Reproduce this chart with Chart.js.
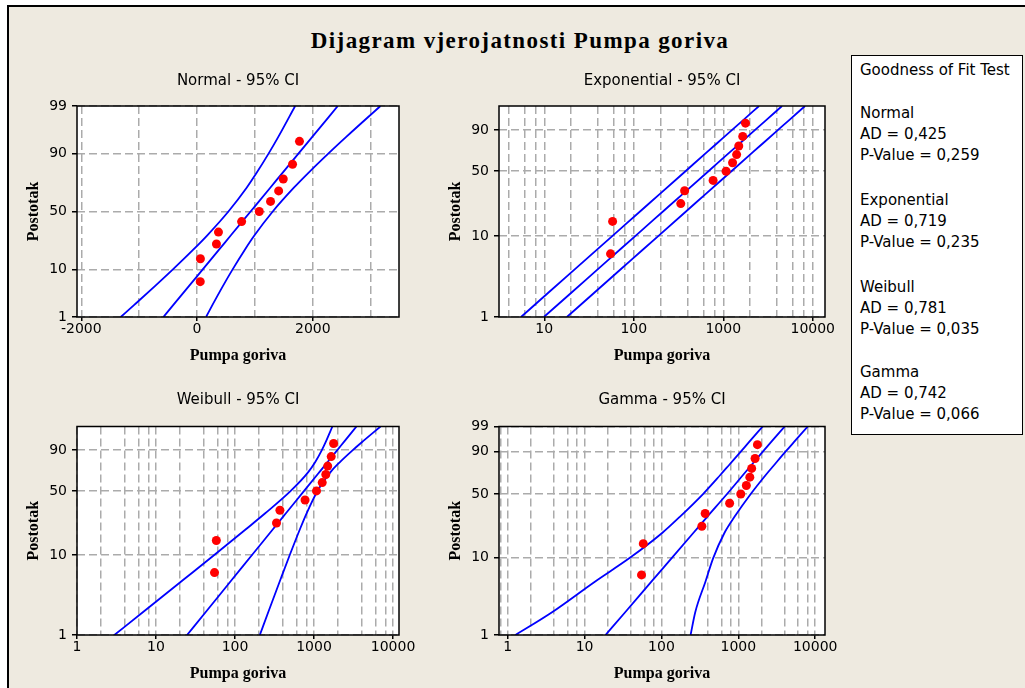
<!DOCTYPE html>
<html>
<head>
<meta charset="utf-8">
<title>Dijagram vjerojatnosti Pumpa goriva</title>
<script src="https://cdn.jsdelivr.net/npm/chart.js@4/dist/chart.umd.min.js"></script>
<style>
  html, body { margin: 0; padding: 0; background: #fff; }
  body { width: 1025px; height: 688px; position: relative; overflow: hidden; }
  #frame { position: absolute; left: 7px; top: 5px; width: 1030px; height: 700px; background: #eeeae0;
           border-top: 2px solid #000; border-left: 2px solid #000; }
  #mainTitle { position: absolute; left: 0; width: 1040px; top: 28px; line-height: 26px; text-align: center;
               font: bold 23px "Liberation Serif", serif; letter-spacing: 1.4px; color: #000; }
  canvas { position: absolute; }
  #gof { position: absolute; left: 851px; top: 55px; width: 170px; height: 378px; border: 1px solid #000;
         background: #fff; font: 15px "DejaVu Sans", sans-serif; color: #000; }
  #gof div { position: absolute; left: 8px; line-height: 18px; white-space: nowrap; }
</style>
</head>
<body>
<div id="frame"></div>
<div id="mainTitle">Dijagram vjerojatnosti Pumpa goriva</div>
<canvas id="cNormal" width="410" height="318" style="left:10px;top:62px"></canvas>
<canvas id="cExp" width="410" height="318" style="left:432px;top:62px"></canvas>
<canvas id="cWeibull" width="410" height="306" style="left:10px;top:382px"></canvas>
<canvas id="cGamma" width="410" height="306" style="left:432px;top:382px"></canvas>
<div id="gof"></div>
<script>
// measured values (Pumpa goriva) and their median-rank plotting positions (Postotak)
const pumpaGoriva = [55, 58, 335, 370, 770, 1075, 1270, 1410, 1490, 1650, 1770];
const postotak = [6.1, 14.9, 23.7, 32.5, 41.2, 50, 58.8, 67.5, 76.3, 85.1, 93.9];

const ciLevels = [1, 2, 5, 10, 20, 30, 50, 70, 80, 90, 95, 99];

const normalFit = [-582, -406, -141, 95, 380, 585, 925, 1265, 1470, 1755, 1991, 2432];
const normalLower = [-1319, -1081, -728, -422, -66, 177, 542, 857, 1024, 1238, 1404, 1695];
const normalUpper = [155, 269, 446, 612, 826, 993, 1308, 1673, 1916, 2272, 2578, 3169];

const expFit = [9.9, 19.9, 50.5, 103.8, 219.8, 351.3, 682.7, 1186, 1585, 2268, 2951, 4536];
const expLower = [5.5, 11.0, 28.0, 57.5, 121.8, 194.6, 378.2, 657, 878, 1256, 1635, 2513];
const expUpper = [17.9, 35.9, 91.2, 187.5, 397, 634, 1233, 2142, 2863, 4096, 5330, 8192];

const weibullFit = [24.7, 43.4, 91.8, 164, 300, 438, 749, 1169, 1477, 1971, 2437, 3446];
const weibullLower = [2.97, 7.06, 22.4, 54.6, 136, 239, 507, 845, 1032, 1256, 1422, 1709];
const weibullUpper = [206, 266, 376, 493, 661, 803, 1107, 1616, 2113, 3093, 4177, 6945];

const gammaFit = [18.7, 33.7, 73.9, 136.6, 260.9, 392.6, 711.9, 1157, 1501, 2081, 2659, 4015];
const gammaLower = [1.26, 3.77, 13.6, 38.8, 102.9, 173, 347, 586, 768, 1076, 1374, 2075];
const gammaUpper = [239, 275, 373, 472, 661, 891, 1448, 2284, 2963, 4108, 5275, 8005];

// axis ticks
const normalXLabels = [-2000, 0, 2000];
const normalXGrid = [-2000, -1000, 0, 1000, 2000, 3000];
const logXLabels = [1, 10, 100, 1000, 10000];
const logGridSteps = [1, 2, 4, 6, 8];
const probLabels = [1, 10, 50, 90, 99];
const probLabelsShort = [1, 10, 50, 90];

// goodness of fit box
const gofNames = ['Normal', 'Exponential', 'Weibull', 'Gamma'];
const gofAD = ['0,425', '0,719', '0,781', '0,742'];
const gofP = ['0,259', '0,235', '0,035', '0,066'];

// ---- probability axis helpers ----
function normCdf(z) {
  const t = 1 / (1 + 0.3275911 * Math.abs(z) / Math.SQRT2);
  const y = 1 - (((((1.061405429 * t - 1.453152027) * t) + 1.421413741) * t - 0.284496736) * t + 0.254829592) * t * Math.exp(-z * z / 2);
  return z >= 0 ? (1 + y) / 2 : (1 - y) / 2;
}
function normInv(p) {
  let lo = -10, hi = 10;
  for (let i = 0; i < 70; i++) {
    const mid = (lo + hi) / 2;
    if (normCdf(mid) < p) lo = mid; else hi = mid;
  }
  return (lo + hi) / 2;
}
function lnGamma(z) {
  const c = [0.99999999999980993, 676.5203681218851, -1259.1392167224028, 771.32342877765313,
    -176.61502916214059, 12.507343278686905, -0.13857109526572012, 9.9843695780195716e-6, 1.5056327351493116e-7];
  z -= 1;
  let x = c[0];
  for (let i = 1; i < 9; i++) x += c[i] / (z + i);
  const t = z + 7.5;
  return 0.5 * Math.log(2 * Math.PI) + (z + 0.5) * Math.log(t) - t + Math.log(x);
}
function gammaP(a, x) {
  if (x <= 0) return 0;
  const gln = lnGamma(a);
  if (x < a + 1) {
    let ap = a, sum = 1 / a, del = sum;
    for (let n = 0; n < 300; n++) {
      ap++; del *= x / ap; sum += del;
      if (Math.abs(del) < Math.abs(sum) * 1e-13) break;
    }
    return sum * Math.exp(-x + a * Math.log(x) - gln);
  }
  let b = x + 1 - a, c = 1e300, d = 1 / b, h = d;
  for (let i = 1; i < 300; i++) {
    const an = -i * (i - a);
    b += 2;
    d = an * d + b; if (Math.abs(d) < 1e-300) d = 1e-300;
    c = b + an / c; if (Math.abs(c) < 1e-300) c = 1e-300;
    d = 1 / d;
    const del = d * c;
    h *= del;
    if (Math.abs(del - 1) < 1e-13) break;
  }
  return 1 - Math.exp(-x + a * Math.log(x) - gln) * h;
}
function gammaInv(p, a) {
  let lo = -40, hi = 6;
  for (let i = 0; i < 80; i++) {
    const mid = (lo + hi) / 2;
    if (gammaP(a, Math.exp(mid)) < p) lo = mid; else hi = mid;
  }
  return Math.exp((lo + hi) / 2);
}

class ProbabilityScale extends Chart.Scale {
  determineDataLimits() {
    this.min = this.options.min;
    this.max = this.options.max;
  }
  buildTicks() {
    return this.options.tickValues.map(v => ({ value: v }));
  }
  getLabelForValue(v) {
    return String(v);
  }
  transform(v) {
    const p = v / 100;
    if (this.options.dist === 'normal') return normInv(p);
    if (this.options.dist === 'gamma') return Math.log(gammaInv(p, this.options.shape));
    return Math.log(-Math.log(1 - p));
  }
  getPixelForValue(v) {
    if (v === null || v === undefined || isNaN(v)) return NaN;
    const t0 = this.transform(this.min), t1 = this.transform(this.max);
    return this.getPixelForDecimal((this.transform(v) - t0) / (t1 - t0));
  }
  getValueForPixel(px) {
    const target = this.getDecimalForPixel(px);
    const t0 = this.transform(this.min), t1 = this.transform(this.max);
    let lo = this.min, hi = this.max;
    for (let i = 0; i < 50; i++) {
      const mid = (lo + hi) / 2;
      if ((this.transform(mid) - t0) / (t1 - t0) < target) lo = mid; else hi = mid;
    }
    return (lo + hi) / 2;
  }
}
ProbabilityScale.id = 'probability';
ProbabilityScale.defaults = {};
Chart.register(ProbabilityScale);

// white plot area + black frame round it
const plotFrame = {
  id: 'plotFrame',
  beforeDraw(chart) {
    const { ctx, chartArea: a } = chart;
    ctx.save();
    ctx.fillStyle = '#fff';
    ctx.fillRect(a.left, a.top, a.right - a.left, a.bottom - a.top);
    ctx.restore();
  },
  afterDatasetsDraw(chart) {
    const { ctx, chartArea: a } = chart;
    ctx.save();
    ctx.strokeStyle = '#000';
    ctx.lineWidth = 1.5;
    ctx.strokeRect(a.left, a.top, a.right - a.left, a.bottom - a.top);
    ctx.restore();
  }
};

function logGrid(min, max) {
  const vals = [];
  for (let e = -1; e <= 4; e++) {
    logGridSteps.forEach(s => {
      const v = Number((s * Math.pow(10, e)).toPrecision(6));
      if (v >= min && v <= max) vals.push(v);
    });
  }
  return vals;
}

const GRID = '#ababab';
const tickFont = { family: 'DejaVu Sans', size: 14 };
const axisTitleFont = { family: 'Liberation Serif', size: 16, weight: 'bold' };

function makePlot(p) {
  const band = arr => ciLevels.map((lvl, i) => ({ x: arr[i], y: lvl }));
  const points = pumpaGoriva.map((v, i) => ({ x: v, y: postotak[i] }));
  const lineStyle = { showLine: true, pointRadius: 0, borderColor: '#0000ff', borderWidth: 1.8,
                      cubicInterpolationMode: 'monotone', fill: false };
  const xGrid = p.xType === 'linear' ? normalXGrid : logGrid(p.xMin, p.xMax);

  new Chart(document.getElementById(p.id), {
    type: 'scatter',
    data: {
      datasets: [
        { data: points, backgroundColor: '#ff0000', borderWidth: 0, pointRadius: 4.5 },
        Object.assign({ data: band(p.fit) }, lineStyle),
        Object.assign({ data: band(p.lower) }, lineStyle),
        Object.assign({ data: band(p.upper) }, lineStyle)
      ]
    },
    options: {
      responsive: false,
      animation: false,
      events: [],
      devicePixelRatio: 1,
      layout: { padding: p.padding },
      plugins: {
        legend: { display: false },
        tooltip: { enabled: false },
        title: {
          display: true, text: p.title, fullSize: false, color: '#000',
          font: { family: 'DejaVu Sans', size: 15, weight: 'normal', lineHeight: 1.2 },
          padding: { top: 0, bottom: p.titleGap }
        }
      },
      scales: {
        x: {
          type: p.xType, min: p.xMin, max: p.xMax,
          afterBuildTicks: s => { s.ticks = xGrid.map(v => ({ value: v })); },
          afterFit: s => { s.height = 50; },
          ticks: {
            autoSkip: false, maxRotation: 0, padding: 0, color: '#000', font: tickFont,
            callback: v => p.xLabels.includes(v) ? String(v) : ''
          },
          grid: {
            color: GRID, lineWidth: 1.5, tickLength: 4, tickWidth: 1.5,
            tickColor: c => (c.tick && p.xLabels.includes(c.tick.value)) ? '#000' : 'rgba(0,0,0,0)'
          },
          border: { display: false, dash: [8, 4] },
          title: { display: true, text: 'Pumpa goriva', color: '#000', font: axisTitleFont, padding: { top: 0, bottom: 1.5 } }
        },
        y: {
          type: 'probability', dist: p.dist, shape: p.shape, min: 1, max: 99, tickValues: p.yLabels,
          afterFit: s => { s.width = 67; },
          ticks: { autoSkip: false, padding: 5, color: '#000', font: tickFont },
          grid: {
            color: GRID, lineWidth: 1.5, tickLength: 5, tickWidth: 1.5,
            tickColor: c => (c.tick && p.yLabels.includes(c.tick.value)) ? '#000' : 'rgba(0,0,0,0)'
          },
          border: { display: false, dash: [8, 4] },
          title: { display: true, text: 'Postotak', color: '#000', font: axisTitleFont, padding: { top: 14, bottom: 0 } }
        }
      }
    },
    plugins: [plotFrame]
  });
}

makePlot({ id: 'cNormal', title: 'Normal - 95% CI', xType: 'linear', xMin: -2075, xMax: 3490,
  xLabels: normalXLabels, dist: 'normal', yLabels: probLabels,
  fit: normalFit, lower: normalLower, upper: normalUpper,
  padding: { left: 0, right: 21, top: 10, bottom: 13 }, titleGap: 16 });

makePlot({ id: 'cExp', title: 'Exponential - 95% CI', xType: 'logarithmic', xMin: 3.12, xMax: 13700,
  xLabels: logXLabels, dist: 'weibull', yLabels: probLabelsShort,
  fit: expFit, lower: expLower, upper: expUpper,
  padding: { left: 0, right: 17, top: 10, bottom: 13 }, titleGap: 16 });

makePlot({ id: 'cWeibull', title: 'Weibull - 95% CI', xType: 'logarithmic', xMin: 1, xMax: 11900,
  xLabels: logXLabels, dist: 'weibull', yLabels: probLabelsShort,
  fit: weibullFit, lower: weibullLower, upper: weibullUpper,
  padding: { left: 0, right: 21, top: 9, bottom: 3 }, titleGap: 17.5 });

makePlot({ id: 'cGamma', title: 'Gamma - 95% CI', xType: 'logarithmic', xMin: 0.77, xMax: 13400,
  xLabels: logXLabels, dist: 'gamma', shape: 1.2, yLabels: probLabels,
  fit: gammaFit, lower: gammaLower, upper: gammaUpper,
  padding: { left: 0, right: 17, top: 9, bottom: 3 }, titleGap: 17.5 });

// Goodness of Fit Test box
const gof = document.getElementById('gof');
const gofLines = [['Goodness of Fit Test', 70]];
const blockTops = [113, 200, 287, 372];
gofNames.forEach((name, i) => {
  gofLines.push([name, blockTops[i]]);
  gofLines.push(['AD = ' + gofAD[i], blockTops[i] + 21]);
  gofLines.push(['P-Value = ' + gofP[i], blockTops[i] + 42]);
});
gofLines.forEach(([text, yc]) => {
  const d = document.createElement('div');
  d.textContent = text;
  d.style.top = (yc - 9 - 56) + 'px';
  gof.appendChild(d);
});
</script>
</body>
</html>
